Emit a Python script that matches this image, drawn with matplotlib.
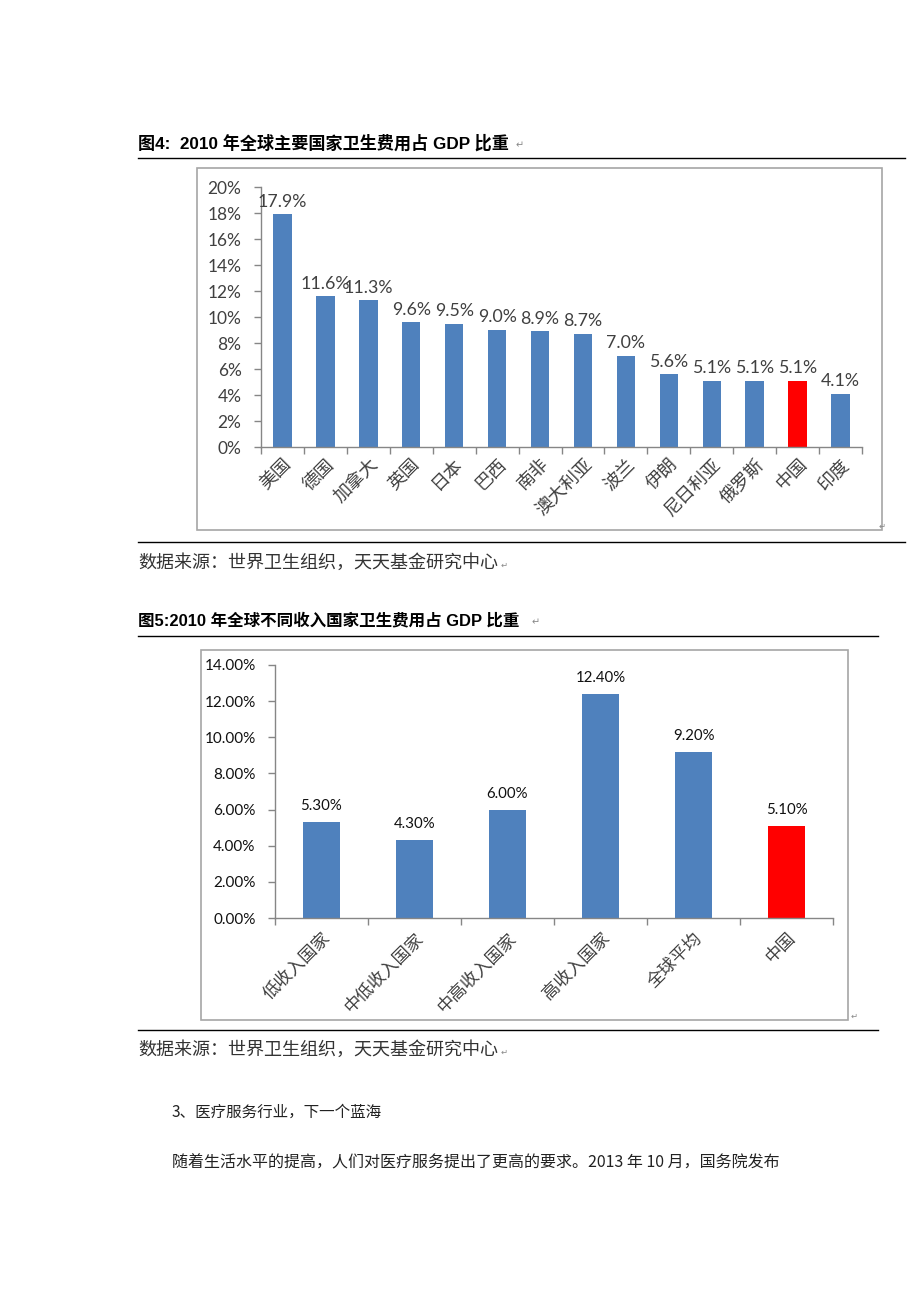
import matplotlib
matplotlib.use("Agg")
import matplotlib.pyplot as plt
from matplotlib.patches import Rectangle
from matplotlib.lines import Line2D
from matplotlib.ticker import FuncFormatter, FixedLocator

plt.rcParams['font.family'] = ['Noto Sans CJK SC', 'DejaVu Sans']

# ---------------- data ----------------
countries = ['美国', '德国', '加拿大', '英国', '日本', '巴西', '南非', '澳大利亚',
             '波兰', '伊朗', '尼日利亚', '俄罗斯', '中国', '印度']
country_values = [17.9, 11.6, 11.3, 9.6, 9.5, 9.0, 8.9, 8.7, 7.0, 5.6, 5.1, 5.1, 5.1, 4.1]

groups = ['低收入国家', '中低收入国家', '中高收入国家', '高收入国家', '全球平均', '中国']
group_values = [5.30, 4.30, 6.00, 12.40, 9.20, 5.10]

title1 = '图4:  2010 年全球主要国家卫生费用占 GDP 比重'
title2 = '图5:2010 年全球不同收入国家卫生费用占 GDP 比重'
source = '数据来源：世界卫生组织，天天基金研究中心'
heading = '3、医疗服务行业，下一个蓝海'
body = '随着生活水平的提高，人们对医疗服务提出了更高的要求。2013 年 10 月，国务院发布'

BLUE = '#4F81BD'
RED = '#FF0000'
GRAY = '#868686'

W, H = 920, 1302
fig = plt.figure(figsize=(W / 100, H / 100), dpi=100)
fig.patch.set_facecolor('white')


def fx(x):
    return x / W


def fy(y):
    return 1 - y / H


def hline(x0, x1, y, lw=1.0, color='black'):
    fig.add_artist(Line2D([fx(x0), fx(x1)], [fy(y), fy(y)], color=color, lw=lw,
                          transform=fig.transFigure))


def box(x0, y0, x1, y1):
    fig.add_artist(Rectangle((fx(x0), fy(y1)), fx(x1) - fx(x0), fy(y0) - fy(y1),
                             transform=fig.transFigure, fill=False,
                             edgecolor='#A6A6A6', lw=1.2))


mark_font = ['DejaVu Sans']
title_font = ['Liberation Sans', 'Noto Sans CJK SC']

# ---------- headings / decorations ----------
fig.text(fx(138), fy(143), title1, fontsize=12.3, fontweight='bold', va='center', ha='left',
         family=title_font)
fig.text(fx(516), fy(145), '↵', fontsize=7, color='#888888', va='center', family=mark_font)
hline(138, 905, 158)
box(197, 168, 882, 530)
fig.text(fx(879), fy(526), '↵', fontsize=6, color='#888888', va='center', family=mark_font)
hline(138, 905, 542)
fig.text(fx(138), fy(563), source, fontsize=13, va='center', ha='left', color='#333333')
fig.text(fx(501), fy(565), '↵', fontsize=6, color='#888888', va='center', family=mark_font)

fig.text(fx(138), fy(620), title2, fontsize=11.9, fontweight='bold', va='center', ha='left',
         family=title_font)
fig.text(fx(532), fy(622), '↵', fontsize=7, color='#888888', va='center', family=mark_font)
hline(138, 878, 636)
box(201, 650, 848, 1020)
fig.text(fx(851), fy(1016), '↵', fontsize=6, color='#888888', va='center', family=mark_font)
hline(138, 878, 1030)
fig.text(fx(138), fy(1050), source, fontsize=13, va='center', ha='left', color='#333333')
fig.text(fx(501), fy(1052), '↵', fontsize=6, color='#888888', va='center', family=mark_font)

fig.text(fx(172), fy(1112), heading, fontsize=11.2, va='center', ha='left', color='#222222')
fig.text(fx(172), fy(1163), body, fontsize=11.5, va='center', ha='left', color='#222222')


def style_axes(ax):
    for s in ['top', 'right']:
        ax.spines[s].set_visible(False)
    for s in ['left', 'bottom']:
        ax.spines[s].set_color(GRAY)
        ax.spines[s].set_linewidth(1.0)
    ax.tick_params(axis='y', colors=GRAY, length=5, width=1.0, labelcolor='#333333', pad=9)
    ax.tick_params(axis='x', which='both', length=0, labelcolor='#333333')


# ---------------- chart 1 ----------------
ax1 = fig.add_axes([fx(261), fy(447), fx(862) - fx(261), fy(187) - fy(447)])
x1 = list(range(len(countries)))
colors1 = [RED if c == '中国' else BLUE for c in countries]
ax1.bar(x1, country_values, width=0.43, color=colors1)
ax1.set_xlim(-0.5, len(countries) - 0.5)
ax1.set_ylim(0, 20)
ax1.set_yticks(range(0, 21, 2))
ax1.yaxis.set_major_formatter(FuncFormatter(lambda v, p: f'{int(v)}%'))
style_axes(ax1)
for lab in ax1.get_yticklabels():
    lab.set_fontsize(12.5)
    lab.set_family(['Lato', 'DejaVu Sans'])
    lab.set_color('#404040')
ax1.set_xticks(x1)
ax1.set_xticklabels(countries, rotation=45, ha='right', va='top', rotation_mode='anchor',
                    fontsize=13, color='#404040')
ax1.tick_params(axis='x', pad=6)
ax1.xaxis.set_minor_locator(FixedLocator([i - 0.5 for i in range(len(countries) + 1)]))
ax1.tick_params(axis='x', which='minor', length=5, color=GRAY, width=1.0)
for xi, v in zip(x1, country_values):
    ax1.text(xi, v + 0.35, f'{v:.1f}%', ha='center', va='bottom', fontsize=12.8,
             color='#404040', family=['Lato', 'DejaVu Sans'])

# ---------------- chart 2 ----------------
ax2 = fig.add_axes([fx(275), fy(918), fx(833) - fx(275), fy(665) - fy(918)])
x2 = list(range(len(groups)))
colors2 = [RED if g == '中国' else BLUE for g in groups]
ax2.bar(x2, group_values, width=0.4, color=colors2)
ax2.set_xlim(-0.5, len(groups) - 0.5)
ax2.set_ylim(0, 14)
ax2.set_yticks(range(0, 15, 2))
ax2.yaxis.set_major_formatter(FuncFormatter(lambda v, p: f'{v:.2f}%'))
style_axes(ax2)
for lab in ax2.get_yticklabels():
    lab.set_fontsize(11)
    lab.set_family(['Lato', 'DejaVu Sans'])
    lab.set_color('#111111')
ax2.set_xticks(x2)
ax2.set_xticklabels(groups, rotation=45, ha='right', va='top', rotation_mode='anchor',
                    fontsize=12.5, color='#404040')
ax2.tick_params(axis='x', pad=8)
ax2.xaxis.set_minor_locator(FixedLocator([i - 0.5 for i in range(len(groups) + 1)]))
ax2.tick_params(axis='x', which='minor', length=5, color=GRAY, width=1.0)
for xi, v in zip(x2, group_values):
    ax2.text(xi, v + 0.5, f'{v:.2f}%', ha='center', va='bottom', fontsize=10.8,
             color='#111111', family=['Lato', 'DejaVu Sans'])

fig.savefig('out.png', dpi=100, facecolor='white')
